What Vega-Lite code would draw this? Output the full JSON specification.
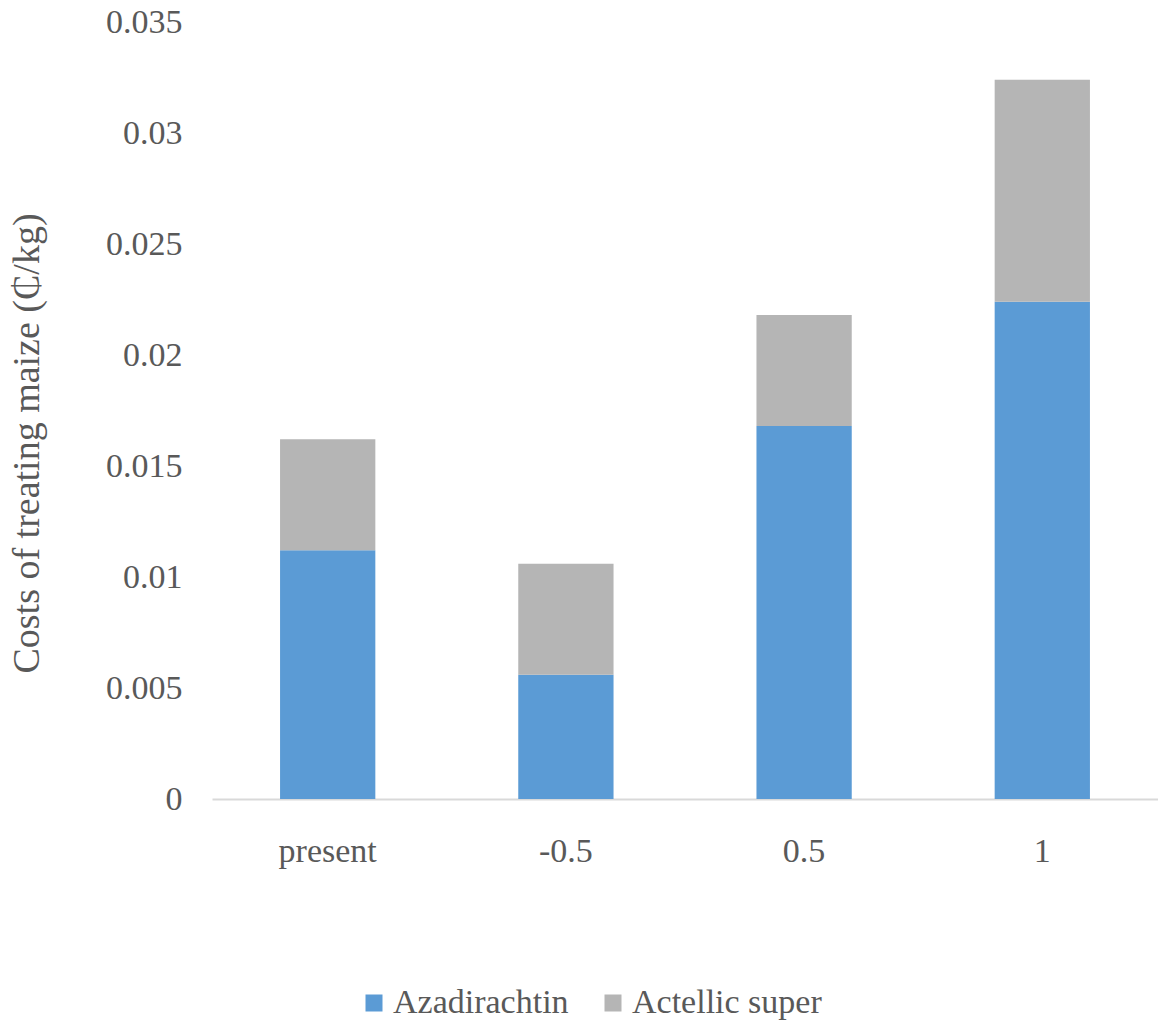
{
  "$schema": "https://vega.github.io/schema/vega-lite/v6.json",
  "width": 946,
  "height": 777,
  "padding": {"left": 212, "top": 22, "right": 0, "bottom": 221},
  "autosize": {"type": "none"},
  "background": "white",
  "config": {
    "view": {"stroke": null},
    "font": "Liberation Serif"
  },
  "data": {
    "values": [
      {"scenario": "present", "product": "Azadirachtin", "cost": 0.0112},
      {"scenario": "present", "product": "Actellic super", "cost": 0.005},
      {"scenario": "-0.5", "product": "Azadirachtin", "cost": 0.0056},
      {"scenario": "-0.5", "product": "Actellic super", "cost": 0.005},
      {"scenario": "0.5", "product": "Azadirachtin", "cost": 0.0168},
      {"scenario": "0.5", "product": "Actellic super", "cost": 0.005},
      {"scenario": "1", "product": "Azadirachtin", "cost": 0.0224},
      {"scenario": "1", "product": "Actellic super", "cost": 0.01}
    ]
  },
  "mark": {"type": "bar"},
  "encoding": {
    "x": {
      "field": "scenario",
      "type": "nominal",
      "sort": ["present", "-0.5", "0.5", "1"],
      "scale": {"paddingInner": 0.6, "paddingOuter": 0.2857},
      "axis": {
        "title": null,
        "labelAngle": 0,
        "labelFont": "Liberation Serif",
        "labelFontSize": 34,
        "labelColor": "#595959",
        "labelPadding": 35,
        "ticks": false,
        "domainColor": "#D9D9D9",
        "domainWidth": 2
      }
    },
    "y": {
      "field": "cost",
      "type": "quantitative",
      "stack": "zero",
      "scale": {"domain": [0, 0.035], "nice": false},
      "axis": {
        "title": "Costs of treating maize (₵/kg)",
        "titleFont": "Liberation Serif",
        "titleFontSize": 38,
        "titleFontWeight": "normal",
        "titleColor": "#595959",
        "titlePadding": 59,
        "titleY": 421,
        "values": [0, 0.005, 0.01, 0.015, 0.02, 0.025, 0.03, 0.035],
        "labelExpr": "datum.value == 0 ? '0' : format(datum.value, '.3~f')",
        "labelFont": "Liberation Serif",
        "labelFontSize": 34,
        "labelColor": "#595959",
        "labelPadding": 30,
        "ticks": false,
        "domain": false,
        "grid": false
      }
    },
    "color": {
      "field": "product",
      "type": "nominal",
      "scale": {"domain": ["Azadirachtin", "Actellic super"], "range": ["#5B9BD5", "#B5B5B5"]},
      "legend": {
        "title": null,
        "orient": "none",
        "direction": "horizontal",
        "legendX": 145,
        "legendY": 964,
        "symbolType": "square",
        "symbolSize": 289,
        "symbolStrokeWidth": 0,
        "labelFont": "Liberation Serif",
        "labelFontSize": 34,
        "labelColor": "#595959",
        "labelOffset": 2,
        "labelLimit": 400,
        "columnPadding": 27
      }
    },
    "order": {"field": "product", "sort": "descending"}
  }
}
